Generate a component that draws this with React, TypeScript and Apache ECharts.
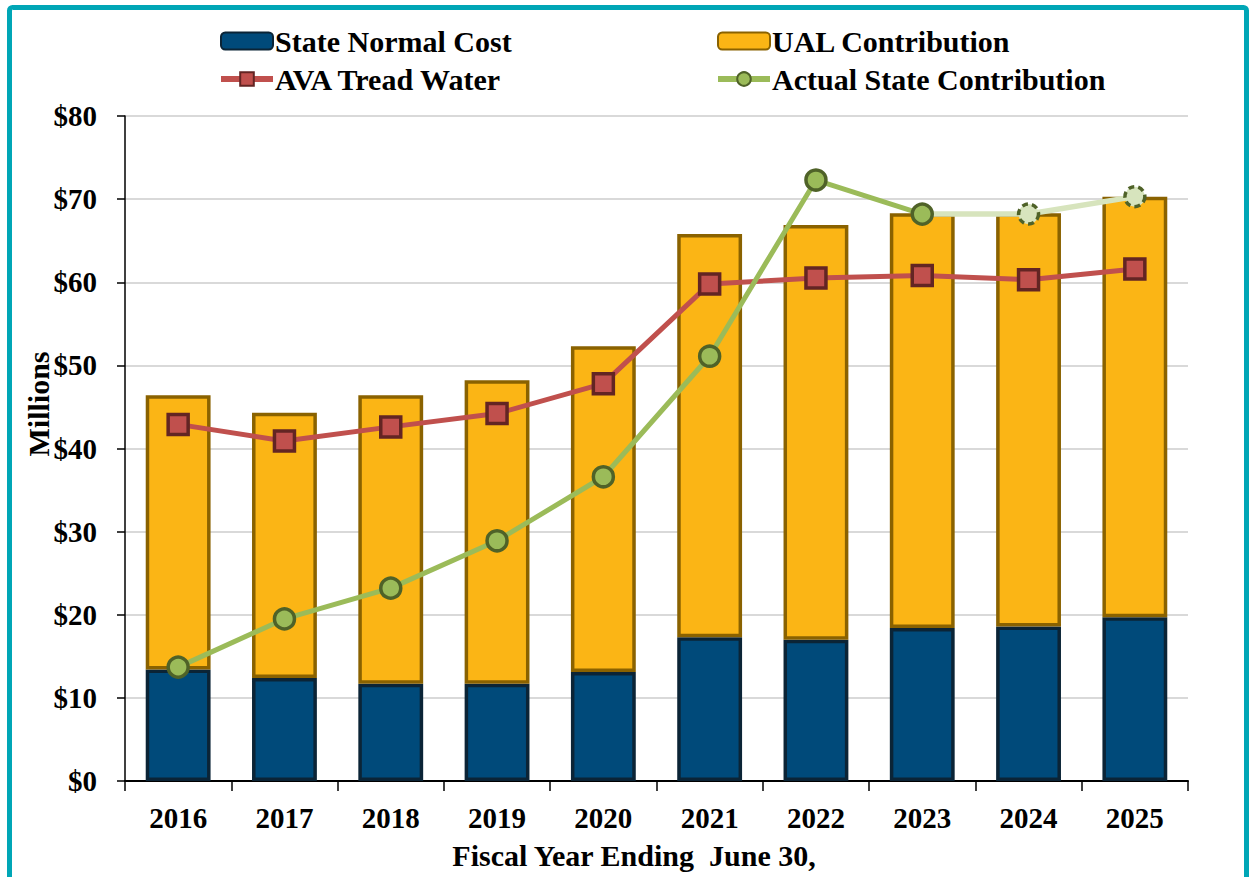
import React, { useEffect, useRef } from "react";
import * as echarts from "echarts";

const years = ["2016", "2017", "2018", "2019", "2020", "2021", "2022", "2023", "2024", "2025"];
const stateNormalCost = [13.4, 12.4, 11.7, 11.7, 13.1, 17.3, 17.0, 18.4, 18.6, 19.7];
const ualContribution = [33.0, 31.9, 34.7, 36.5, 39.2, 48.5, 49.9, 49.9, 49.7, 50.6];
const avaTreadWater = [42.9, 40.9, 42.6, 44.2, 47.8, 59.8, 60.5, 60.8, 60.3, 61.6];
const actualContribution = [13.7, 19.5, 23.2, 28.9, 36.6, 51.1, 72.3, 68.2, null, null];
const projectedContribution = [null, null, null, null, null, null, null, 68.2, 68.2, 70.3];

const FONT = "'Liberation Serif', 'Times New Roman', serif";

export default function App() {
  const ref = useRef<HTMLDivElement>(null);
  useEffect(() => {
    if (!ref.current) return;
    const chart = echarts.init(ref.current, null, { renderer: "svg" });
    const textStyle = { fontFamily: FONT, fontWeight: "bold", fontSize: 30, color: "#000" };
    chart.setOption({
      animation: false,
      backgroundColor: "#fff",
      textStyle: { fontFamily: FONT },
      graphic: [
        {
          type: "rect",
          shape: { x: 9.5, y: 7.5, width: 1237, height: 900, r: 3 },
          style: { fill: "none", stroke: "#00a6b6", lineWidth: 5 },
          z: 100,
        },
        {
          type: "text",
          x: 634,
          y: 855,
          style: {
            text: "Fiscal Year Ending  June 30,",
            font: `bold 30px ${FONT}`,
            fill: "#000",
            align: "center",
            verticalAlign: "middle",
          },
        },
        {
          type: "text",
          x: 38,
          y: 404,
          rotation: Math.PI / 2,
          style: {
            text: "Millions",
            font: `bold 30px ${FONT}`,
            fill: "#000",
            align: "center",
            verticalAlign: "middle",
          },
        },
      ],
      legend: [
        {
          left: 213,
          top: 21,
          orient: "vertical",
          data: [
            { name: "State Normal Cost" },
            { name: "AVA Tread Water", lineStyle: { width: 6 } },
          ],
          itemWidth: 52,
          itemHeight: 17,
          itemGap: 8,
          textStyle: { ...textStyle, padding: [0, 0, 0, -3] },
        },
        {
          left: 710,
          top: 21,
          orient: "vertical",
          data: [
            { name: "UAL Contribution" },
            { name: "Actual State Contribution", lineStyle: { width: 6 } },
          ],
          itemWidth: 52,
          itemHeight: 17,
          itemGap: 8,
          textStyle: { ...textStyle, padding: [0, 0, 0, -3] },
        },
      ],
      grid: { left: 125, right: 61, top: 116, bottom: 96, containLabel: false },
      xAxis: {
        type: "category",
        data: years,
        boundaryGap: true,
        axisLine: { lineStyle: { color: "#000", width: 2 } },
        axisTick: { show: true, length: 10, lineStyle: { color: "#000", width: 1.5 } },
        axisLabel: { ...textStyle, fontSize: 29, margin: 22 },
      },
      yAxis: {
        type: "value",
        min: 0,
        max: 80,
        interval: 10,
        axisLine: { show: true, lineStyle: { color: "#000", width: 1.5 } },
        axisTick: { show: true, length: 8, lineStyle: { color: "#000", width: 1.5 } },
        axisLabel: { ...textStyle, fontSize: 29, margin: 28, formatter: (v: number) => "$" + v },
        splitLine: { lineStyle: { color: "#d9d9d9", width: 2 } },
      },
      series: [
        {
          name: "State Normal Cost",
          type: "bar",
          stack: "total",
          barWidth: "61%",
          data: stateNormalCost,
          itemStyle: { color: "#004a7a", borderColor: "#0b2436", borderWidth: 3.5 },
        },
        {
          name: "UAL Contribution",
          type: "bar",
          stack: "total",
          data: ualContribution,
          itemStyle: { color: "#fbb515", borderColor: "#8a6200", borderWidth: 3.5 },
        },
        {
          name: "AVA Tread Water",
          type: "line",
          data: avaTreadWater,
          symbol: "rect",
          symbolSize: 20,
          z: 5,
          lineStyle: { color: "#c0504d", width: 5 },
          itemStyle: { color: "#c0504d", borderColor: "#632523", borderWidth: 3.5 },
        },
        {
          name: "Projected",
          type: "line",
          data: projectedContribution.map((v, i) => (i === 7 ? { value: v, symbol: "none" } : v)),
          symbol: "circle",
          symbolSize: 20,
          z: 6,
          lineStyle: { color: "#d7e4bd", width: 5.5 },
          itemStyle: { color: "#d7e4bd", borderColor: "#4f6228", borderWidth: 3.5, borderType: [6, 4] },
        },
        {
          name: "Actual State Contribution",
          type: "line",
          data: actualContribution,
          symbol: "circle",
          symbolSize: 20,
          z: 7,
          lineStyle: { color: "#9bbb59", width: 5 },
          itemStyle: { color: "#9bbb59", borderColor: "#4f6228", borderWidth: 3.5 },
        },
      ],
    });
    return () => chart.dispose();
  }, []);
  return (
    <div
      ref={ref}
      style={{ position: "fixed", left: 0, top: 0, width: 1249, height: 877, background: "#fff" }}
    />
  );
}
